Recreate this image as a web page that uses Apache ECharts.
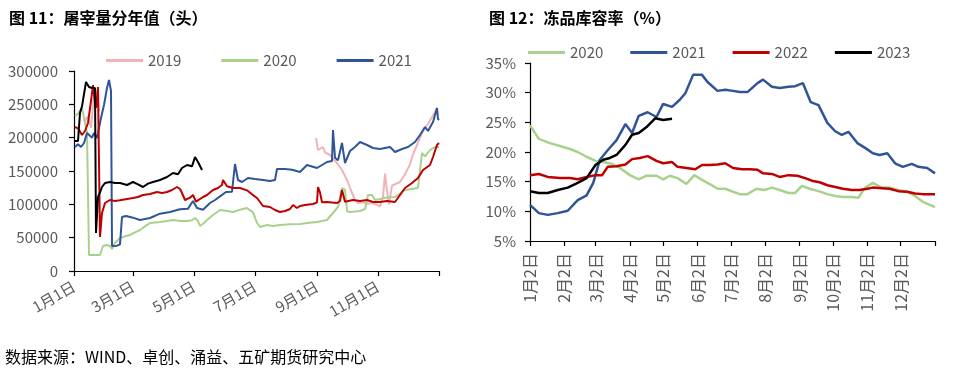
<!DOCTYPE html>
<html><head><meta charset="utf-8">
<script src="https://cdn.jsdelivr.net/npm/echarts@6/dist/echarts.min.js"></script>
<style>html,body{margin:0;padding:0;background:#fff}#c{width:955px;height:380px}</style>
</head><body><div id="c"></div>
<script>
// ---------- Left chart: 屠宰量分年值 (day-of-year index, head count) ----------
const leftTickLabels = ['1月1日','3月1日','5月1日','7月1日','9月1日','11月1日'];
const leftYTicks = [0, 50000, 100000, 150000, 200000, 250000, 300000];
const s2019 = [[10,225000],[14,232000],[17,215000],[20,262000],[23,270000],[25,240000],[120,null],
  [242,199500],[244,181500],[246,181500],[249,186000],[251,178000],[256,174000],[263,162000],[268,151500],[273,136500],[276,124500],[281,106500],[284,102000],[289,103000],[294,101000],[299,102000],[306,97000],[309,111000],[311,146000],[313,120000],[315,100000],[318,128000],[326,133500],[331,145000],[336,160000],[339,175000],[343,189000],[348,207000],[354,221000],[361,238500],[363,245000]];
const s2020 = [[1,232000],[4,236000],[6,241000],[8,244500],[10,230000],[13,207000],[14,207000],[15,24000],[26,24000],[29,37500],[33,39000],[36,37500],[38,33000],[41,42000],[46,49500],[51,52000],[56,54000],[61,58000],[66,61500],[71,67000],[76,72000],[86,73500],[93,75000],[99,76500],[106,75000],[113,75000],[118,76000],[121,79500],[124,75000],[126,67500],[130,72000],[133,76500],[139,84000],[146,91500],[153,90000],[159,88500],[166,92000],[173,94500],[175,96000],[179,88000],[183,72000],[186,66000],[193,69000],[199,67500],[206,69000],[216,70000],[226,70500],[233,72000],[243,73500],[253,76500],[259,87000],[264,96000],[268,124500],[271,122000],[273,90000],[276,88500],[286,90000],[291,93000],[294,114000],[298,114000],[301,106500],[306,108000],[311,110000],[321,111000],[331,121500],[344,124500],[348,177000],[351,172000],[356,181500],[361,186000],[365,186000]];
const s2021 = [[1,186000],[4,190000],[7,186000],[10,192000],[13,207000],[15,204000],[18,200000],[20,207000],[23,199500],[27,229500],[30,249000],[33,274500],[35,286500],[37,270000],[38,37500],[43,38000],[46,40000],[48,81000],[52,82500],[59,80000],[66,76500],[76,79500],[86,86000],[96,88500],[106,92500],[114,93500],[119,105000],[123,94500],[129,92000],[136,102000],[141,106500],[146,112000],[152,118500],[158,119000],[161,160500],[164,136500],[168,133500],[174,139500],[181,138000],[189,136500],[196,135000],[201,136500],[203,153000],[211,153000],[218,152000],[226,148500],[233,159000],[243,154500],[253,163500],[258,165000],[259,211500],[261,170000],[264,166000],[268,192000],[271,162000],[276,180000],[281,186000],[286,193500],[293,189000],[299,184500],[306,183000],[311,184500],[316,186000],[321,178500],[328,183000],[334,186000],[341,193500],[346,204000],[351,216000],[354,210000],[359,223500],[363,244500],[364,228000],[365,226500]];
const s2022 = [[1,216000],[4,214000],[8,204000],[11,210000],[14,222000],[17,255000],[19,279000],[21,252000],[22,244500],[24,276000],[25,276000],[26,51000],[28,87000],[31,102000],[36,106500],[41,105000],[46,106000],[53,108000],[59,109500],[64,111000],[69,114000],[76,115500],[83,118500],[88,117000],[93,118500],[98,121500],[103,126000],[106,123000],[108,117000],[111,106500],[116,110000],[119,114000],[122,104000],[124,106000],[129,111000],[133,114000],[139,121500],[144,124500],[148,129000],[149,136500],[153,127000],[159,124500],[166,124500],[173,121000],[178,115000],[183,109500],[189,97500],[196,96000],[201,91500],[206,88500],[211,90000],[216,93000],[219,99000],[223,94500],[226,97500],[231,99000],[239,100500],[243,103000],[244,126000],[246,118000],[248,103000],[253,103500],[263,102000],[266,105000],[268,121500],[271,104000],[279,106500],[286,105000],[293,106500],[299,103500],[306,103500],[313,105000],[321,103500],[326,114000],[331,124500],[338,132000],[344,139500],[349,151500],[356,159000],[359,171000],[363,189000],[365,192000]];
const s2023 = [[1,195000],[4,195000],[6,237000],[8,247000],[10,245000],[12,283500],[13,286500],[15,276000],[18,274500],[21,274500],[22,57000],[24,111000],[26,118000],[28,126000],[31,132000],[36,133500],[41,132000],[46,132000],[53,129000],[59,133500],[64,130000],[69,126000],[74,131000],[79,133500],[86,136500],[93,141000],[99,147000],[104,145000],[108,154500],[113,159000],[118,157000],[121,171000],[124,163500],[128,151500]];

// ---------- Right chart: 冻品库容率 (%) (day index from 1月2日) ----------
const rightTickLabels = ['1月2日','2月2日','3月2日','4月2日','5月2日','6月2日','7月2日','8月2日','9月2日','10月2日','11月2日','12月2日'];
const r2020 = [[0,24.5],[8,22.2],[18,21.5],[27,21.0],[36,20.5],[43,20.0],[51,19.2],[59,18.5],[66,18.3],[74,18.0],[81,17.3],[90,16.1],[98,15.4],[105,16.0],[114,16.0],[120,15.4],[126,16.0],[133,15.6],[141,14.6],[148,16.1],[155,15.3],[162,14.6],[169,13.8],[176,13.8],[183,13.3],[189,12.9],[196,12.9],[204,13.8],[211,13.6],[218,14.0],[225,13.6],[233,13.1],[239,13.1],[245,14.3],[252,13.8],[260,13.4],[268,12.9],[275,12.6],[282,12.4],[290,12.4],[296,12.3],[302,14.0],[309,14.8],[317,14.0],[324,14.0],[332,13.6],[340,13.3],[347,12.6],[354,11.6],[365,10.7]];
const r2021 = [[0,11.1],[8,9.7],[16,9.4],[25,9.7],[34,10.1],[43,11.9],[51,12.7],[57,14.8],[63,18.7],[70,20.3],[78,22.0],[86,24.7],[92,23.2],[98,26.1],[106,26.7],[114,25.9],[120,28.1],[128,27.6],[135,28.8],[140,29.9],[147,33.0],[155,33.0],[160,31.8],[169,30.3],[176,30.5],[183,30.3],[189,30.1],[196,30.1],[205,31.6],[210,32.2],[218,31.0],[225,30.8],[233,31.0],[239,31.1],[246,31.6],[253,28.4],[260,27.9],[268,24.9],[275,23.5],[281,22.9],[287,23.4],[295,21.5],[302,20.7],[309,19.8],[315,19.5],[322,19.8],[329,18.1],[336,17.5],[344,18.0],[350,17.5],[358,17.3],[365,16.4]];
const r2022 = [[0,16.1],[8,16.3],[16,15.8],[27,15.6],[36,15.6],[43,15.4],[51,15.8],[59,16.1],[65,16.1],[70,17.5],[78,17.6],[86,17.9],[92,18.8],[99,19.0],[106,19.3],[114,18.5],[120,18.1],[128,18.3],[133,17.5],[141,17.3],[149,17.1],[155,17.8],[162,17.8],[169,17.9],[176,18.1],[183,17.3],[191,17.1],[198,17.1],[205,17.0],[210,16.4],[218,16.3],[225,15.8],[233,16.1],[241,16.0],[248,15.6],[255,15.1],[261,14.9],[268,14.4],[275,14.1],[282,13.8],[290,13.6],[297,13.6],[304,13.8],[309,14.0],[317,13.9],[324,13.8],[332,13.4],[340,13.3],[347,13.0],[354,12.9],[365,12.9]];
const r2023 = [[0,13.4],[8,13.1],[16,13.1],[25,13.6],[34,14.0],[43,14.8],[51,15.6],[59,17.8],[66,18.7],[72,19.0],[78,19.5],[86,21.2],[92,22.9],[98,23.2],[105,24.2],[113,25.7],[120,25.4],[128,25.6]];

const C = {p:'#F2B3B6', g:'#A9D18E', b:'#2F5597', r:'#C00000', k:'#000000'};
const FONT = "'Noto Sans CJK SC', 'Noto Sans', sans-serif";
const GRAY = '#595959';

function buildDays(year, startMonth, startDay) {
  const out = [];
  const d = new Date(Date.UTC(year, startMonth - 1, startDay));
  for (let i = 0; i < 366; i++) {
    out.push((d.getUTCMonth() + 1) + '月' + d.getUTCDate() + '日');
    d.setUTCDate(d.getUTCDate() + 1);
  }
  return out;
}
const leftCats = buildDays(2019, 1, 1);
const rightCats = buildDays(2021, 1, 2);
const leftTickIdx = new Set(leftTickLabels.map(l => leftCats.indexOf(l)).concat([365]));
const leftLabelIdx = new Set(leftTickLabels.map(l => leftCats.indexOf(l)));
const rightTickIdx = new Set(rightTickLabels.map(l => rightCats.indexOf(l)).concat([365]));
const rightLabelIdx = new Set(rightTickLabels.map(l => rightCats.indexOf(l)));

const axisLine = {show:true, lineStyle:{color:'#000', width:1.2}};
const tick = {show:true, inside:false, length:5, lineStyle:{color:'#000', width:1.2}};

function line(name, data, color, xi, w) {
  return {type:'line', name, data, xAxisIndex:xi, yAxisIndex:xi, symbol:'none', showSymbol:false,
    connectNulls:false, lineStyle:{color, width:w}, itemStyle:{color}, animation:false, z: 2};
}

const chart = echarts.init(document.getElementById('c'), null, {renderer:'canvas'});
chart.setOption({
  animation:false,
  textStyle:{fontFamily:FONT},
  title:[
    {text:'图 11：屠宰量分年值（头）', left:4, top:5, textStyle:{fontSize:16, fontWeight:'bold', color:'#000', fontFamily:FONT}},
    {text:'图 12：冻品库容率（%）', left:484, top:5, textStyle:{fontSize:16, fontWeight:'bold', color:'#000', fontFamily:FONT}}
  ],
  legend:[
    {data:['2019','2020','2021'], left:101, top:48, itemWidth:37, itemHeight:3, itemGap:40, icon:'rect',
     textStyle:{fontSize:15, color:GRAY, fontFamily:FONT}},
    {data:['2020','2021','2022','2023'], left:523, top:40, itemWidth:37, itemHeight:3, itemGap:27, icon:'rect',
     textStyle:{fontSize:15, color:GRAY, fontFamily:FONT}}
  ],
  grid:[
    {left:74, top:71, width:365, height:200, containLabel:false},
    {left:530, top:63, width:405, height:178, containLabel:false}
  ],
  xAxis:[
    {type:'category', gridIndex:0, data:leftCats, boundaryGap:false, axisLine, 
     axisTick:Object.assign({}, tick, {interval:(i)=>leftTickIdx.has(i)}),
     axisLabel:{interval:(i)=>leftLabelIdx.has(i), rotate:30, margin:14, fontSize:15, color:GRAY, fontFamily:FONT},
     splitLine:{show:false}},
    {type:'category', gridIndex:1, data:rightCats, boundaryGap:false, axisLine,
     axisTick:Object.assign({}, tick, {interval:(i)=>rightTickIdx.has(i)}),
     axisLabel:{interval:(i)=>rightLabelIdx.has(i), rotate:90, margin:12, fontSize:16, color:GRAY, fontFamily:FONT},
     splitLine:{show:false}}
  ],
  yAxis:[
    {type:'value', gridIndex:0, min:leftYTicks[0], max:leftYTicks[leftYTicks.length-1], interval:leftYTicks[1]-leftYTicks[0],
     axisLine, axisTick:tick, splitLine:{show:false},
     axisLabel:{margin:16, fontSize:15, color:GRAY, fontFamily:FONT, formatter:(v)=>String(v)}},
    {type:'value', gridIndex:1, min:5, max:35, interval:5,
     axisLine, axisTick:tick, splitLine:{show:false},
     axisLabel:{margin:14, fontSize:15, color:GRAY, fontFamily:FONT, formatter:'{value}%'}}
  ],
  graphic:[
    {type:'text', left:5, top:349, style:{text:'数据来源：WIND、卓创、涌益、五矿期货研究中心', fontSize:16, fill:'#000', fontFamily:FONT}}
  ],
  series:[
    line('2019', s2019, C.p, 0, 2),
    line('2020', s2020, C.g, 0, 2),
    line('2021', s2021, C.b, 0, 2),
    line('2022', s2022, C.r, 0, 2),
    line('2023', s2023, C.k, 0, 2),
    line('2020', r2020, C.g, 1, 2.5),
    line('2021', r2021, C.b, 1, 2.5),
    line('2022', r2022, C.r, 1, 2.5),
    line('2023', r2023, C.k, 1, 2.5)
  ]
});
</script></body></html>
